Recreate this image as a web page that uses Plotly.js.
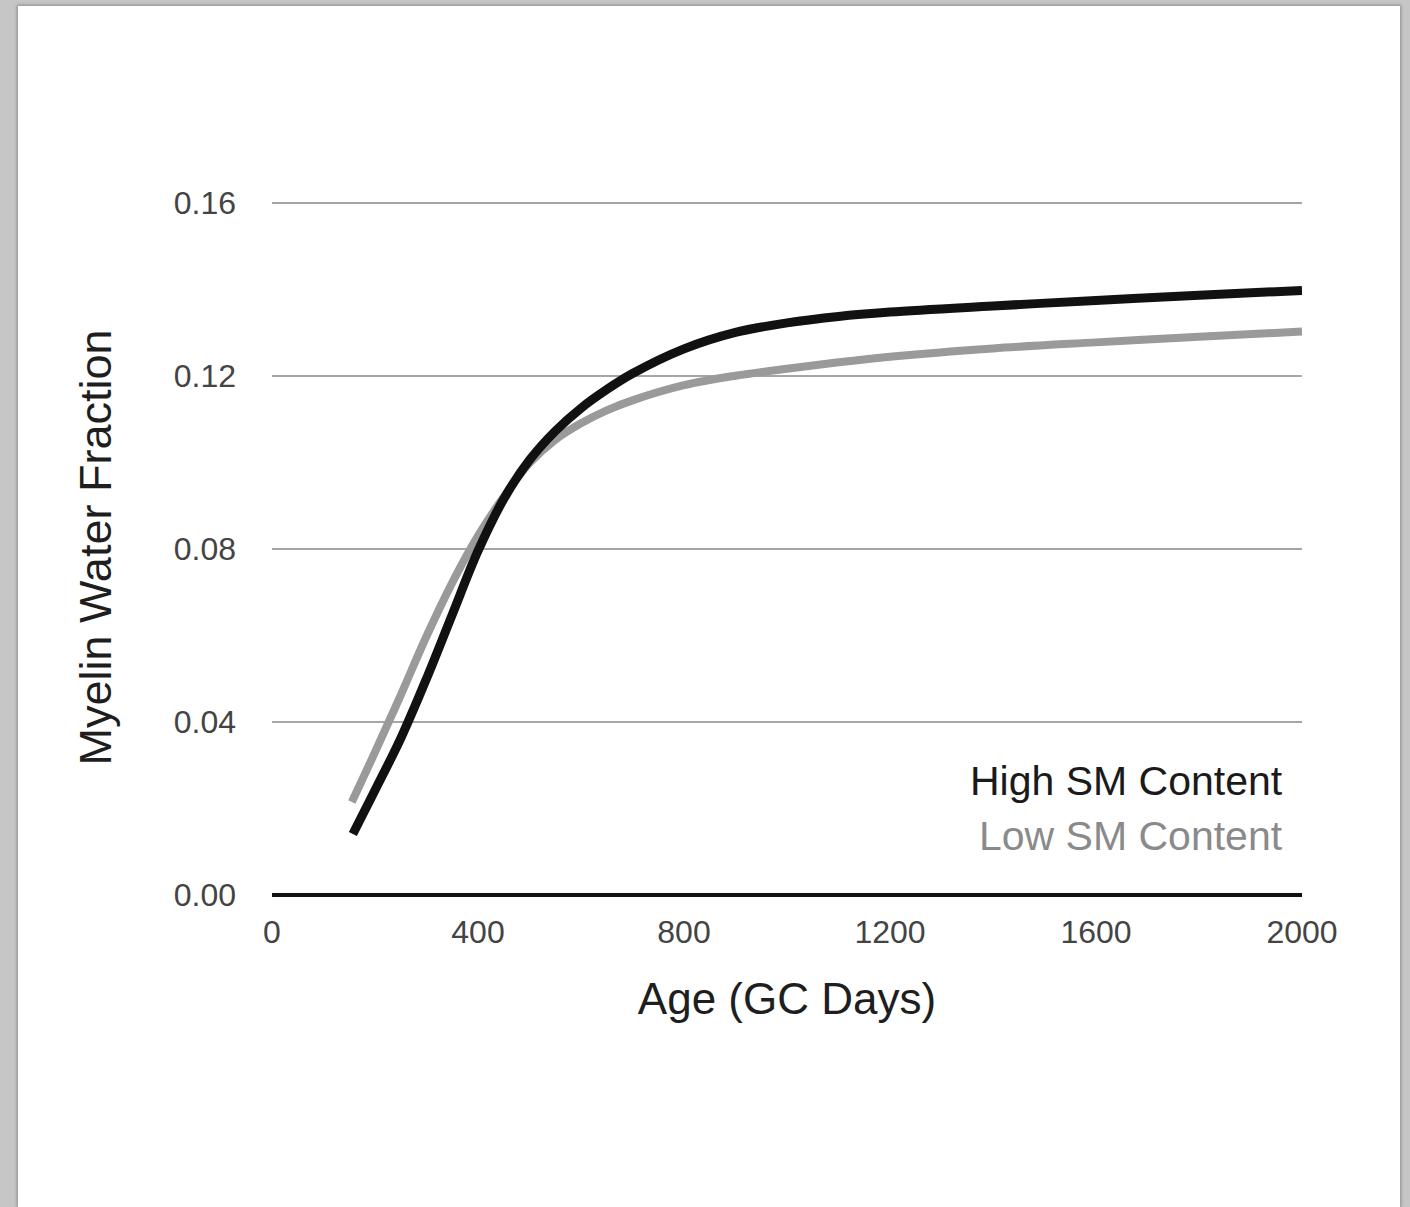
<!DOCTYPE html>
<html>
<head>
<meta charset="utf-8">
<script src="https://cdn.plot.ly/plotly-3.0.1.min.js"></script>
<style>
  html, body { margin: 0; padding: 0; background: #c6c6c6; width: 1410px; height: 1207px; overflow: hidden; }
  #sheet { position: absolute; left: 18px; top: 6px; width: 1382px; height: 1201px; background: #ffffff; box-shadow: 0 0 3px 1px #8c8c8c; }
  #chart { position: absolute; left: 0; top: 0; width: 1410px; height: 1207px; }
</style>
</head>
<body>
<div id="sheet"></div>
<div id="chart"></div>
<script>
// Age (GC days) and myelin water fraction
const ageHigh = [157, 200, 250, 300, 350, 400, 450, 500, 550, 600, 650, 700, 800, 900, 1000, 1100, 1200, 1400, 1600, 1800, 2000];
const mwfHigh = [0.0141, 0.0242, 0.0362, 0.0500, 0.0648, 0.0795, 0.0915, 0.1005, 0.1072, 0.1125, 0.1168, 0.1205, 0.1262, 0.1300, 0.1322, 0.1337, 0.1347, 0.1361, 0.1374, 0.1386, 0.1397];

const ageLow = [155, 200, 250, 300, 350, 400, 450, 500, 550, 600, 650, 700, 800, 900, 1000, 1100, 1200, 1400, 1600, 1800, 2000];
const mwfLow = [0.0215, 0.0330, 0.0462, 0.0598, 0.0722, 0.0830, 0.0920, 0.0998, 0.1052, 0.1090, 0.1120, 0.1143, 0.1178, 0.1200, 0.1216, 0.1231, 0.1244, 0.1263, 0.1277, 0.1290, 0.1302];

const seriesNames = ["High SM Content", "Low SM Content"];
const seriesColors = ["#111111", "#9a9a9a"];

const xTicks = [0, 400, 800, 1200, 1600, 2000];
const yTicks = [0.00, 0.04, 0.08, 0.12, 0.16];

const FONT = '"Liberation Sans", Arial, Helvetica, sans-serif';

const traces = [
  { x: ageLow, y: mwfLow, name: seriesNames[1], mode: 'lines',
    line: { color: seriesColors[1], width: 8, shape: 'spline', smoothing: 1 } },
  { x: ageHigh, y: mwfHigh, name: seriesNames[0], mode: 'lines',
    line: { color: seriesColors[0], width: 9, shape: 'spline', smoothing: 1 } }
];

const layout = {
  width: 1410, height: 1207,
  paper_bgcolor: 'rgba(0,0,0,0)',
  plot_bgcolor: 'rgba(0,0,0,0)',
  showlegend: false,
  margin: { l: 272, r: 108, t: 200, b: 312 },
  font: { family: FONT, color: '#444' },
  xaxis: {
    range: [0, 2000],
    tickvals: xTicks,
    ticktext: xTicks.map(String),
    showgrid: false, zeroline: false, showline: false,
    ticks: '', ticklabelstandoff: 15,
    tickfont: { size: 32, color: '#444', family: FONT },
    title: { text: 'Age (GC Days)', font: { size: 44, color: '#1e1e1e', family: FONT }, standoff: 34 },
    fixedrange: true
  },
  yaxis: {
    range: [0, 0.1606],
    tickvals: yTicks,
    ticktext: yTicks.map(v => v.toFixed(2)),
    showgrid: true, gridcolor: '#a6a6a6', gridwidth: 2,
    zeroline: true, zerolinecolor: '#111', zerolinewidth: 4,
    showline: false, ticks: '', ticklabelstandoff: 35,
    tickfont: { size: 32, color: '#444', family: FONT },
    title: { text: 'Myelin Water Fraction', font: { size: 45, color: '#1e1e1e', family: FONT }, standoff: 47 },
    fixedrange: true
  },
  annotations: [
    { xref: 'paper', yref: 'paper', x: 0.9835, y: 0.1645, xanchor: 'right', yanchor: 'middle',
      text: seriesNames[0], showarrow: false, font: { size: 41, color: '#1a1a1a', family: FONT } },
    { xref: 'paper', yref: 'paper', x: 0.9835, y: 0.0851, xanchor: 'right', yanchor: 'middle',
      text: seriesNames[1], showarrow: false, font: { size: 41, color: '#8a8a8a', family: FONT } }
  ]
};

Plotly.newPlot('chart', traces, layout, { staticPlot: true, displayModeBar: false });
</script>
</body>
</html>
